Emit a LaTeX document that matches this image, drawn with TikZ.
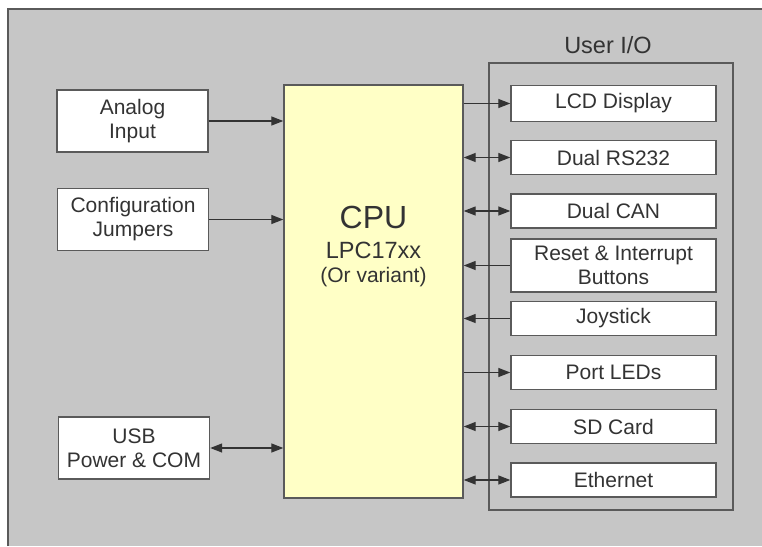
\documentclass[tikz,border=0pt]{standalone}
\usepackage{fontspec}
\setmainfont{Liberation Sans}
\usetikzlibrary{arrows.meta}
\definecolor{bggray}{HTML}{C6C6C6}
\definecolor{cpuy}{HTML}{FFFFC6}
\definecolor{edge}{HTML}{5A5A5A}
\definecolor{txt}{HTML}{333333}
\begin{document}
\begin{tikzpicture}[x=1pt,y=-1pt,
  box/.style={draw=edge,line width=1.4pt,fill=white,inner sep=0pt,text=txt,
    font=\fontsize{21}{24}\selectfont,align=center},
  rbox/.style={box,minimum width=205pt,minimum height=34pt},
  lbox/.style={box,minimum width=151pt,minimum height=62pt},
  conn/.style={draw=txt,line width=1.3pt},
  lbl/.style={text=txt,inner sep=0pt,anchor=base}]
\useasboundingbox (0,0) rectangle (762,546);
\fill[white] (0,0) rectangle (762,546);
\fill[bggray] (8,9) rectangle (762,546);
\draw[edge,line width=1.4pt] (8,546) -- (8,9) -- (762,9);
% CPU
\node[draw=edge,line width=1.4pt,fill=cpuy,minimum width=179pt,minimum height=413pt,inner sep=0pt] (cpu) at (373.5,291.5) {};
\node[lbl,font=\fontsize{32}{36}\selectfont] (cputitle) at (373.5,228) {CPU};
\node[lbl,font=\fontsize{23.5}{26}\selectfont] (cpupart) at (373.5,258) {LPC17xx};
\node[lbl,font=\fontsize{21}{24}\selectfont] (cpuvar) at (373.5,282) {(Or variant)};
% User I/O frame
\node[draw=edge,line width=1.4pt,minimum width=244pt,minimum height=447pt,inner sep=0pt] (uio) at (611,286.5) {};
\node[lbl,font=\fontsize{23.5}{26}\selectfont] (uiolabel) at (608,53) {User I/O};
% left boxes
\node[lbox] (analog) at (132.5,121) {Analog\\Input};
\node[lbox] (config) at (133,219.5) {Configuration\\Jumpers};
\node[lbox] (usb) at (134,448) {USB\\Power \& COM};
% right boxes
\node[rbox,minimum height=36pt] (lcd) at (613.5,103.5) {LCD Display};
\node[rbox] (rs) at (613.5,157.5) {Dual RS232};
\node[rbox] (can) at (613.5,211) {Dual CAN};
\node[rbox,minimum height=53pt] (reset) at (613.5,265.5) {Reset \& Interrupt\\Buttons};
\node[rbox] (joy) at (613.5,318.5) {Joystick};
\node[rbox] (leds) at (613.5,372.5) {Port LEDs};
\node[rbox] (sd) at (613.5,426.5) {SD Card};
\node[rbox] (eth) at (613.5,480) {Ethernet};
% connectors left
\draw[conn,-{Triangle[length=12pt,width=9pt]}] (analog.east) -- (cpu.west |- analog.east);
\draw[conn,-{Triangle[length=12pt,width=9pt]}] (config.east) -- (cpu.west |- config.east);
\draw[conn,{Triangle[length=12pt,width=9pt]}-{Triangle[length=12pt,width=9pt]}] (usb.east) -- (cpu.west |- usb.east);
% connectors right
\draw[conn,-{Triangle[length=12pt,width=9pt]}] (cpu.east |- lcd.west) -- (lcd.west);
\draw[conn,{Triangle[length=12pt,width=9pt]}-{Triangle[length=12pt,width=9pt]}] (cpu.east |- rs.west) -- (rs.west);
\draw[conn,{Triangle[length=12pt,width=9pt]}-{Triangle[length=12pt,width=9pt]}] (cpu.east |- can.west) -- (can.west);
\draw[conn,{Triangle[length=12pt,width=9pt]}-] (cpu.east |- reset.west) -- (reset.west);
\draw[conn,{Triangle[length=12pt,width=9pt]}-] (cpu.east |- joy.west) -- (joy.west);
\draw[conn,-{Triangle[length=12pt,width=9pt]}] (cpu.east |- leds.west) -- (leds.west);
\draw[conn,{Triangle[length=12pt,width=9pt]}-{Triangle[length=12pt,width=9pt]}] (cpu.east |- sd.west) -- (sd.west);
\draw[conn,{Triangle[length=12pt,width=9pt]}-{Triangle[length=12pt,width=9pt]}] (cpu.east |- eth.west) -- (eth.west);
\end{tikzpicture}
\end{document}
